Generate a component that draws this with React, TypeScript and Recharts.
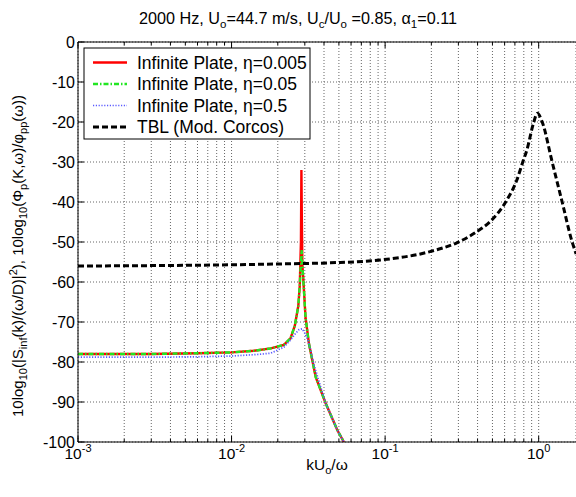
import { LineChart, Line, XAxis, YAxis, CartesianGrid, Label } from 'recharts';

const FONT = '"Liberation Sans", Arial, Helvetica, sans-serif';

// axis ticks (log x: every minor decade step gets a grid line)
const xTicks = [
  0.001, 0.002, 0.003, 0.004, 0.005, 0.006, 0.007, 0.008, 0.009,
  0.01, 0.02, 0.03, 0.04, 0.05, 0.06, 0.07, 0.08, 0.09,
  0.1, 0.2, 0.3, 0.4, 0.5, 0.6, 0.7, 0.8, 0.9,
  1,
];
const xDecades = [0.001, 0.01, 0.1, 1];
const xDecadeExp = ['-3', '-2', '-1', '0'];
const yTicks = [0, -10, -20, -30, -40, -50, -60, -70, -80, -90, -100];

// Infinite plate, eta = 0.005
const eta005K = [0.001, 0.003, 0.006, 0.01, 0.014, 0.018, 0.0219, 0.0242, 0.0258, 0.0272, 0.0278, 0.0283, 0.0285, 0.0287, 0.0289, 0.0296, 0.0303, 0.0319, 0.0353, 0.041, 0.0488, 0.0539];
const eta005Db = [-78, -78, -77.8, -77.6, -77.2, -76.6, -75.7, -74.1, -71, -66, -61, -50, -32, -45, -55.5, -62, -68.7, -75.4, -83.7, -90.3, -97, -100];

// Infinite plate, eta = 0.05
const eta05K = [0.001, 0.003, 0.006, 0.01, 0.014, 0.018, 0.0219, 0.0242, 0.0258, 0.0272, 0.0278, 0.0283, 0.0286, 0.0289, 0.0296, 0.0303, 0.0319, 0.0353, 0.041, 0.0488, 0.0539];
const eta05Db = [-78, -78, -77.8, -77.6, -77.2, -76.6, -75.7, -74.1, -71, -66, -61, -55, -52, -55.5, -62, -68.7, -75.4, -83.7, -90.3, -97, -100];

// Infinite plate, eta = 0.5
const eta5K = [0.001, 0.003, 0.006, 0.01, 0.015, 0.018, 0.0219, 0.0242, 0.0262, 0.0275, 0.0288, 0.03, 0.0314, 0.0328, 0.0343, 0.041, 0.0488, 0.0539];
const eta5Db = [-78.8, -78.8, -78.7, -78.5, -78.1, -77.8, -76.3, -74.5, -72.8, -71.9, -71.7, -72.8, -74.5, -77.2, -80.5, -90.3, -97, -100];

// TBL (Mod. Corcos)
const tblK = [0.001, 0.003, 0.006, 0.01, 0.02, 0.044, 0.093, 0.196, 0.293, 0.4, 0.483, 0.621, 0.721, 0.788, 0.838, 0.925, 0.98, 1.054, 1.224, 1.422, 1.652, 1.754];
const tblDb = [-56, -55.9, -55.8, -55.7, -55.5, -55.2, -54.5, -52.4, -50.2, -47.3, -44.9, -39.5, -34.5, -30, -27, -20.3, -17.8, -20, -30, -40, -50, -53];

const toPoints = (xs: number[], ys: number[]) => xs.map((x, i) => ({ x, y: ys[i] }));

const series = [
  { name: 'Infinite Plate, \u03b7=0.005', data: toPoints(eta005K, eta005Db), color: '#ff0000', dash: undefined, width: 2.4, type: 'linear' },
  { name: 'Infinite Plate, \u03b7=0.05', data: toPoints(eta05K, eta05Db), color: '#22e622', dash: '5 2 1.5 2', width: 2.4, type: 'linear' },
  { name: 'Infinite Plate, \u03b7=0.5', data: toPoints(eta5K, eta5Db), color: '#5a5aff', dash: '1.2 1.6', width: 1.7, type: 'linear' },
  { name: 'TBL (Mod. Corcos)', data: toPoints(tblK, tblDb), color: '#000000', dash: '6 3', width: 3, type: 'monotone' },
];

const PLOT_TOP = 42;
const PLOT_BOTTOM = 442;
const PLOT_LEFT = 78;

const isDecade = (v: number) => xDecades.findIndex((d) => Math.abs(d - v) / d < 1e-6);

const BottomTick = (props: any) => {
  const { x, payload } = props;
  const idx = isDecade(payload.value);
  return (
    <g>
      <line x1={x} x2={x} y1={PLOT_BOTTOM} y2={PLOT_BOTTOM - (idx >= 0 ? 6 : 3)} stroke="#000" />
      {idx >= 0 && (
        <text x={x} y={459} textAnchor="middle" fontFamily={FONT} fontSize={15.5} fill="#000">
          <tspan>10</tspan>
          <tspan dy={-7} fontSize={11}>{xDecadeExp[idx]}</tspan>
        </text>
      )}
    </g>
  );
};

const TopTick = (props: any) => {
  const { x, payload } = props;
  const major = isDecade(payload.value) >= 0;
  return <line x1={x} x2={x} y1={PLOT_TOP} y2={PLOT_TOP + (major ? 6 : 3)} stroke="#000" />;
};

const LeftTick = (props: any) => {
  const { y, payload } = props;
  return (
    <g>
      <line x1={PLOT_LEFT} x2={PLOT_LEFT + 6} y1={y} y2={y} stroke="#000" />
      <text x={PLOT_LEFT - 3} y={y + 5.5} textAnchor="end" fontFamily={FONT} fontSize={16} fill="#000">
        {payload.value}
      </text>
    </g>
  );
};

const Title = () => (
  <g>
    <text x={298} y={24} textAnchor="middle" fontFamily={FONT} fontSize={16.2} fill="#000">
      <tspan>2000 Hz, U</tspan>
      <tspan dy={4} fontSize={11.5}>o</tspan>
      <tspan dy={-4}>=44.7 m/s, U</tspan>
      <tspan dy={4} fontSize={11.5}>c</tspan>
      <tspan dy={-4}>/U</tspan>
      <tspan dy={4} fontSize={11.5}>o</tspan>
      <tspan dy={-4}> =0.85, </tspan>
      <tspan>{'\u03b1'}</tspan>
      <tspan dy={4} fontSize={11.5}>1</tspan>
      <tspan dy={-4}>=0.11</tspan>
    </text>
    <g>
      <rect x={84} y={48} width={226} height={91} fill="#fff" stroke="#000" strokeWidth={1} />
      {series.map((s, i) => {
        const cy = 62.5 + i * 21.5;
        return (
          <g key={s.name}>
            <line x1={93} x2={127} y1={cy} y2={cy} stroke={s.color} strokeWidth={s.width} strokeDasharray={s.dash} />
            <text x={137} y={cy + 6.3} fontFamily={FONT} fontSize={17.5} fill="#000">
              {s.name}
            </text>
          </g>
        );
      })}
    </g>
  </g>
);

const XTitle = () => (
  <text x={327} y={470} textAnchor="middle" fontFamily={FONT} fontSize={15.5} fill="#000">
    <tspan>kU</tspan>
    <tspan dy={4} fontSize={11}>o</tspan>
    <tspan dy={-4}>/{'\u03c9'}</tspan>
  </text>
);

const YTitle = () => (
  <text
    x={23}
    y={256}
    transform="rotate(-90, 23, 256)"
    textAnchor="middle"
    fontFamily={FONT}
    fontSize={15}
    fill="#000"
  >
    <tspan>10log</tspan>
    <tspan dy={4} fontSize={11}>10</tspan>
    <tspan dy={-4}>(|S</tspan>
    <tspan dy={4} fontSize={11}>inf</tspan>
    <tspan dy={-4}>(k)/({'\u03c9'}/D)|</tspan>
    <tspan dy={-6} fontSize={11}>2</tspan>
    <tspan dy={6}>), 10log</tspan>
    <tspan dy={4} fontSize={11}>10</tspan>
    <tspan dy={-4}>({'\u03a6'}</tspan>
    <tspan dy={4} fontSize={11}>p</tspan>
    <tspan dy={-4}>(K,{'\u03c9'})/{'\u03c6'}</tspan>
    <tspan dy={4} fontSize={11}>pp</tspan>
    <tspan dy={-4}>({'\u03c9'}))</tspan>
  </text>
);

export default function App() {
  return (
    <div style={{ position: 'absolute', left: 0, top: 0, width: 576, height: 497, background: '#fff' }}>
      <LineChart width={576} height={497} margin={{ top: PLOT_TOP - 1, right: 0, bottom: 497 - PLOT_BOTTOM - 1, left: 0 }}>
        <CartesianGrid stroke="#666" strokeDasharray="1 2" />
        <XAxis
          dataKey="x"
          type="number"
          scale="log"
          domain={[0.001, 1.75]}
          allowDataOverflow
          ticks={xTicks}
          interval={0}
          height={1}
          tickSize={0}
          tickMargin={0}
          tickLine={false}
          tick={<BottomTick />}
          axisLine={{ stroke: '#000' }}
        >
          <Label content={() => <XTitle />} />
        </XAxis>
        <XAxis
          xAxisId="top"
          orientation="top"
          dataKey="x"
          type="number"
          scale="log"
          domain={[0.001, 1.75]}
          allowDataOverflow
          ticks={xTicks}
          interval={0}
          height={1}
          tickSize={0}
          tickMargin={0}
          tickLine={false}
          tick={<TopTick />}
          axisLine={{ stroke: '#000' }}
        >
          <Label content={() => <Title />} />
        </XAxis>
        <YAxis
          type="number"
          domain={[-100, 0]}
          allowDataOverflow
          ticks={yTicks}
          interval={0}
          width={PLOT_LEFT}
          tickSize={0}
          tickMargin={0}
          tickLine={false}
          tick={<LeftTick />}
          axisLine={{ stroke: '#000' }}
        >
          <Label content={() => <YTitle />} />
        </YAxis>
        {series.map((s) => (
          <Line
            key={s.name}
            data={s.data}
            dataKey="y"
            type={s.type as any}
            stroke={s.color}
            strokeWidth={s.width}
            strokeDasharray={s.dash}
            dot={false}
            activeDot={false}
            isAnimationActive={false}
          />
        ))}
      </LineChart>
    </div>
  );
}
